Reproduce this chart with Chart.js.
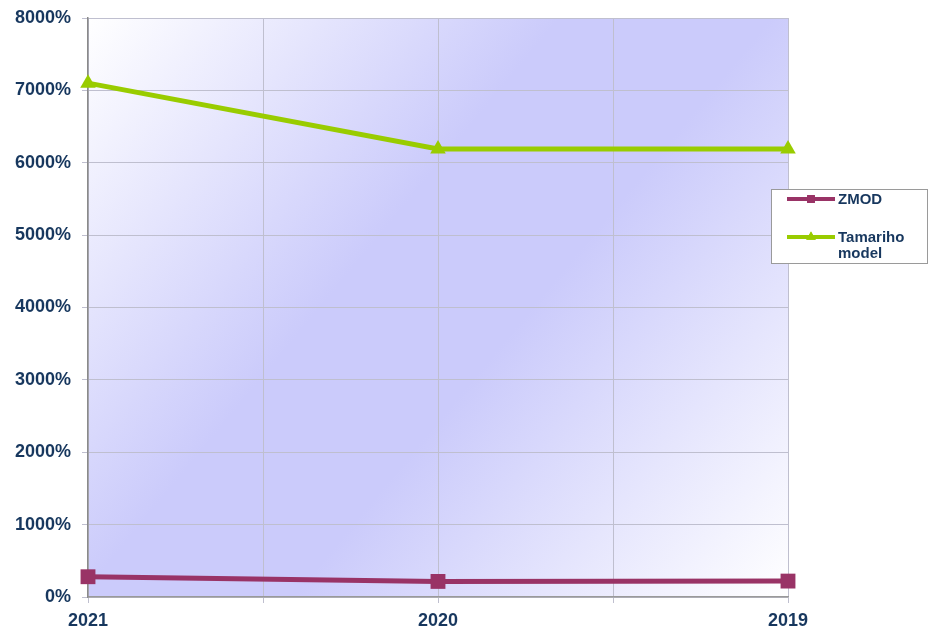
<!DOCTYPE html>
<html>
<head>
<meta charset="utf-8">
<script src="https://cdn.jsdelivr.net/npm/chart.js@4/dist/chart.umd.min.js"></script>
<style>
    html, body { margin: 0; padding: 0; background: #ffffff; }
    #chart { display: block; }
</style>
</head>
<body>
<canvas id="chart" width="932" height="632"></canvas>
<script>
const years = ["2021", "2020", "2019"];
const zmodValues = [280, 215, 220];
const tamarihoValues = [7100, 6190, 6190];
const seriesNames = ["ZMOD", "Tamariho model"];

const navy = "#17375e";
const zmodColor = "#993366";
const tamarihoColor = "#99cc00";

function toPoints(values) {
    return values.map((v, i) => ({ x: i, y: v }));
}

// diagonal gradient behind the plot area
const plotBackground = {
    id: "plotBackground",
    beforeDraw(chart) {
        const { ctx, chartArea: a } = chart;
        const g = ctx.createLinearGradient(a.left, a.top, a.right, a.bottom);
        g.addColorStop(0, "#ffffff");
        g.addColorStop(0.4, "#cbcbfb");
        g.addColorStop(0.58, "#cbcbfb");
        g.addColorStop(1, "#ffffff");
        ctx.save();
        ctx.fillStyle = g;
        ctx.fillRect(a.left, a.top, a.right - a.left, a.bottom - a.top);
        ctx.restore();
    }
};

// legend box on the right
const sideLegend = {
    id: "sideLegend",
    afterDraw(chart) {
        const ctx = chart.ctx;
        ctx.save();
        ctx.fillStyle = "#ffffff";
        ctx.strokeStyle = "#9a9a9a";
        ctx.lineWidth = 1;
        ctx.fillRect(771, 189, 156, 74);
        ctx.strokeRect(771.5, 189.5, 156, 74);

        const rows = [
            { color: zmodColor, style: "rect", y: 199, text: [seriesNames[0]] },
            { color: tamarihoColor, style: "triangle", y: 237, text: ["Tamariho", "model"] }
        ];
        rows.forEach(r => {
            ctx.strokeStyle = r.color;
            ctx.lineWidth = 4;
            ctx.beginPath();
            ctx.moveTo(787, r.y);
            ctx.lineTo(835, r.y);
            ctx.stroke();
            ctx.fillStyle = r.color;
            Chart.helpers.drawPoint(ctx, { pointStyle: r.style, radius: 5.5, rotation: 0, borderWidth: 0 }, 811, r.y);
            ctx.fill();
            ctx.fillStyle = navy;
            ctx.font = "bold 15px 'Liberation Sans', Arial, sans-serif";
            ctx.textBaseline = "middle";
            ctx.textAlign = "left";
            r.text.forEach((t, i) => ctx.fillText(t, 838, r.y + 1 + i * 16));
        });
        ctx.restore();
    }
};

new Chart(document.getElementById("chart").getContext("2d"), {
    type: "line",
    data: {
        datasets: [
            {
                label: seriesNames[0],
                data: toPoints(zmodValues),
                borderColor: zmodColor,
                backgroundColor: zmodColor,
                borderWidth: 5,
                pointStyle: "rect",
                pointRadius: 10.5,
                pointHoverRadius: 10.5,
                pointBorderWidth: 0,
                tension: 0,
                clip: false
            },
            {
                label: seriesNames[1],
                data: toPoints(tamarihoValues),
                borderColor: tamarihoColor,
                backgroundColor: tamarihoColor,
                borderWidth: 5,
                pointStyle: "triangle",
                pointRadius: 9,
                pointHoverRadius: 9,
                pointBorderWidth: 0,
                tension: 0,
                clip: false
            }
        ]
    },
    options: {
        responsive: false,
        animation: false,
        layout: { padding: { left: 0, right: 144, top: 18, bottom: 0 } },
        plugins: {
            legend: { display: false },
            tooltip: { enabled: false }
        },
        scales: {
            x: {
                type: "linear",
                min: 0,
                max: 2,
                afterFit: s => {
                    s.height = 35;
                    s.paddingLeft = 0;
                    s.paddingRight = 0;
                },
                afterBuildTicks: s => {
                    s.ticks = [0, 0.5, 1, 1.5, 2].map(v => ({ value: v }));
                },
                grid: {
                    color: "#bfbfcf",
                    lineWidth: 1,
                    tickLength: 6,
                    tickColor: "#bfbfcf"
                },
                border: { color: "#9a9a9a", width: 1.5 },
                ticks: {
                    autoSkip: false,
                    maxRotation: 0,
                    padding: 7,
                    color: navy,
                    font: { family: "'Liberation Sans', Arial, sans-serif", size: 18, weight: "bold" },
                    callback: v => Number.isInteger(v) ? years[v] : ""
                }
            },
            y: {
                min: 0,
                max: 8000,
                afterFit: s => {
                    s.width = 88;
                    s.paddingTop = 0;
                    s.paddingBottom = 0;
                },
                grid: {
                    color: "#bfbfcf",
                    lineWidth: 1,
                    tickLength: 6,
                    tickColor: "#bfbfcf"
                },
                border: { color: "#8a8a8a", width: 1.5 },
                ticks: {
                    stepSize: 1000,
                    padding: 11,
                    color: navy,
                    font: { family: "'Liberation Sans', Arial, sans-serif", size: 18, weight: "bold" },
                    callback: v => v + "%"
                }
            }
        }
    },
    plugins: [plotBackground, sideLegend]
});
</script>
</body>
</html>
